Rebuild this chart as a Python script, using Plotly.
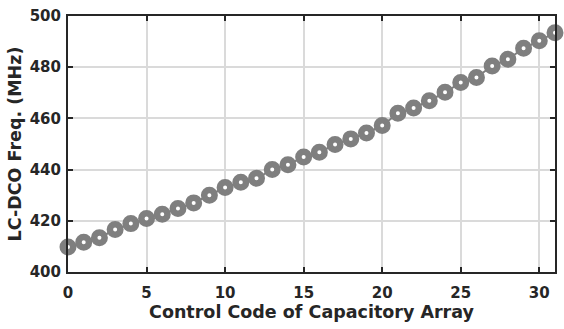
import plotly.graph_objects as go

codes = list(range(32))
freq_mhz = [409.8, 411.6, 413.4, 416.6, 418.9, 420.9, 422.6, 424.8, 427.0, 430.0,
            433.0, 435.1, 436.6, 440.0, 441.9, 444.9, 446.8, 449.8, 452.0, 454.3,
            457.2, 462.0, 464.1, 466.9, 470.2, 474.0, 476.0, 480.5, 483.1, 487.4,
            490.3, 493.5]
x_ticks = [0, 5, 10, 15, 20, 25, 30]
y_ticks = [400, 420, 440, 460, 480, 500]

gray = "#7f7f7f"
font_family = "DejaVu Sans, sans-serif"

fig = go.Figure()
fig.add_trace(go.Scatter(
    x=codes, y=freq_mhz, mode="lines+markers",
    line=dict(color=gray, width=2),
    marker=dict(symbol="circle", size=10.5, color="white",
                line=dict(color=gray, width=6.5)),
    cliponaxis=False, showlegend=False,
))

axis_common = dict(
    showline=True, linecolor="#262626", linewidth=2, mirror="ticks",
    ticks="inside", ticklen=5, tickwidth=2, tickcolor="#262626",
    showgrid=True, gridcolor="#dadada", gridwidth=1.5,
    zeroline=False,
    tickfont=dict(family=font_family, size=15, color="#262626", weight="bold"),
)

fig.update_xaxes(range=[0, 31], tickvals=x_ticks, ticklabelstandoff=6,
                 title=dict(text="<b>Control Code of Capacitory Array</b>",
                            font=dict(family=font_family, size=17.5, color="#262626"),
                            standoff=2),
                 **axis_common)
fig.update_yaxes(range=[400, 500], tickvals=y_ticks, ticklabelstandoff=2,
                 title=dict(text="<b>LC-DCO Freq. (MHz)</b>",
                            font=dict(family=font_family, size=17.5, color="#262626"),
                            standoff=4),
                 **axis_common)

fig.update_layout(
    width=564, height=329,
    margin=dict(l=68, r=7, t=15, b=57),
    plot_bgcolor="white", paper_bgcolor="white",
)

fig.write_html("out.html")
